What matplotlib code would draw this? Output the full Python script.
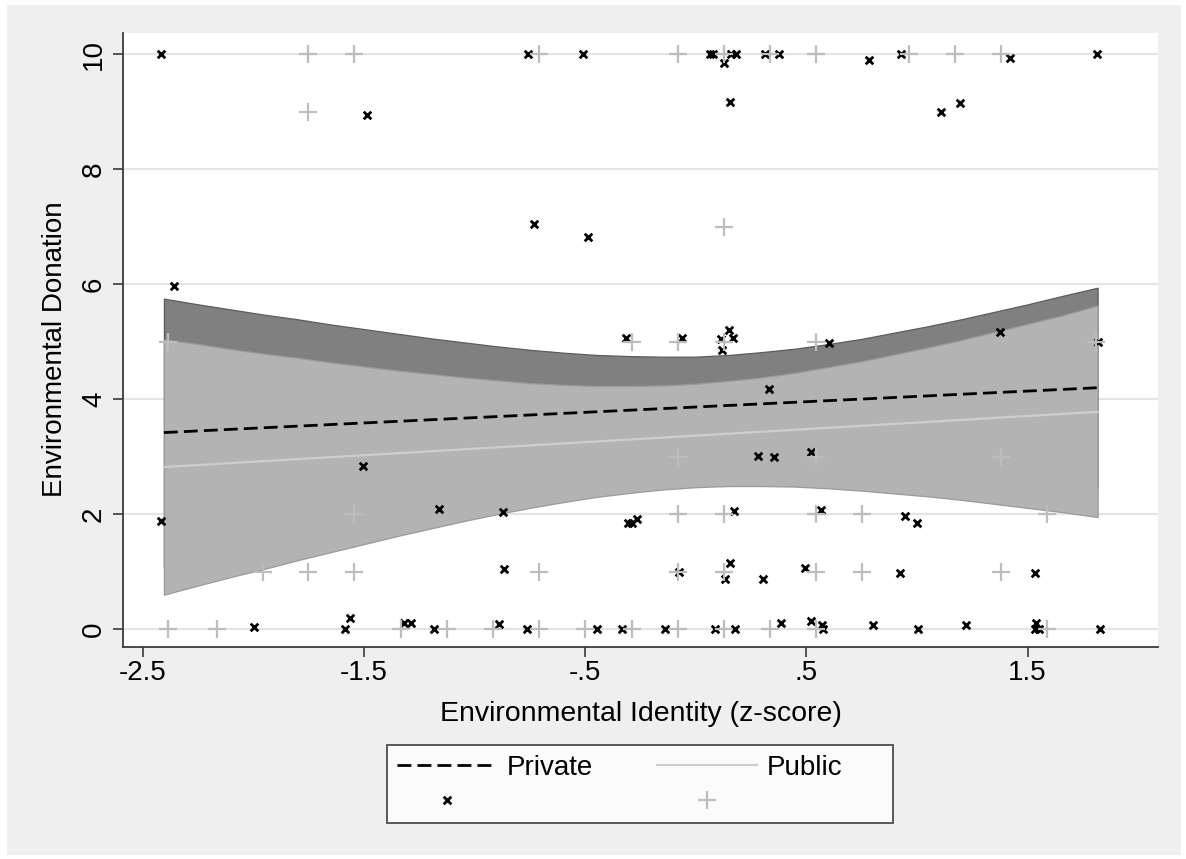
import matplotlib
matplotlib.use("Agg")
import matplotlib.pyplot as plt
from matplotlib.patches import Rectangle

plt.rcParams['font.family'] = ['Liberation Sans', 'DejaVu Sans']

# scatter: Private (x markers)
priv_x = [-2.42, -0.757, -0.510, -1.485, -0.731, -0.488,
          0.065, 0.080, 0.126, 0.159, 0.182, 0.156, 0.315, 0.375, 0.781, 0.930,
          1.419, 1.815, 1.111, 1.194,
          -2.36, -0.314, -0.063, 0.114, 0.148, 0.168, 0.117, 0.333, 0.601, 1.375, 1.818,
          -1.503, -2.419, -1.159, -0.872, -0.307, -0.289, -0.266, -0.865,
          -1.998, -1.586, -1.563, -1.318, -1.289, -1.182, -0.892, -0.761, -0.447, -0.334,
          0.280, 0.355, 0.521, 0.174, 0.566, 0.945, 0.999,
          -0.075, 0.156, 0.133, 0.304, 0.492, 0.925, 1.536,
          -0.141, 0.088, 0.176, 0.385, 0.523, 0.571, 0.575, 0.800, 1.005, 1.223,
          1.539, 1.533, 1.554, 1.827]
priv_y = [10, 10, 10, 8.95, 7.04, 6.83,
          10, 10, 9.84, 10, 10, 9.17, 10, 10, 9.9, 10,
          9.94, 10, 8.99, 9.15,
          5.97, 5.06, 5.07, 5.05, 5.2, 5.06, 4.85, 4.17, 4.97, 5.17, 5.0,
          2.84, 1.88, 2.09, 2.04, 1.84, 1.84, 1.91, 1.04,
          0.03, 0, 0.2, 0.11, 0.1, 0, 0.09, 0, 0, 0,
          3.01, 3.0, 3.08, 2.05, 2.07, 1.97, 1.85,
          1.0, 1.15, 0.87, 0.88, 1.07, 0.97, 0.98,
          0, 0, 0.01, 0.11, 0.14, 0.08, 0, 0.08, 0, 0.08,
          0.11, 0, 0, 0]

# scatter: Public (+ markers)
pub_x = [-1.752, -1.544, -0.708, -0.082, 0.126, 0.334, 0.544, 0.963, 1.170, 1.378,
         -1.752,
         0.126,
         -2.385, -0.289, -0.082, 0.126, 0.544, 1.808,
         -0.082, 0.544, 1.378,
         -1.544, -0.082, 0.126, 0.544, 0.752, 1.586,
         -1.958, -1.752, -1.544, -0.708, -0.082, 0.126, 0.544, 0.752, 1.378,
         -2.385, -2.167, -1.334, -1.126, -0.918, -0.708, -0.500, -0.289, -0.082,
         0.126, 0.334, 0.544, 1.586]
pub_y = [10] * 10 + [9] + [7] + [5] * 6 + [3] * 3 + [2] * 6 + [1] * 9 + [0] * 13

# fitted lines and 95% CI bands
fit_x = [-2.405, 1.817]
priv_fit = [3.42, 4.20]
pub_fit = [2.82, 3.78]

ci_x = [-2.405, -2.25, -2.1, -1.95, -1.8, -1.65, -1.5, -1.35, -1.2, -1.05, -0.9, -0.75,
        -0.6, -0.45, -0.3, -0.15, 0.0, 0.15, 0.3, 0.45, 0.6, 0.75, 0.9, 1.05, 1.2,
        1.35, 1.5, 1.65, 1.817]
priv_hi = [5.75, 5.65, 5.56, 5.47, 5.39, 5.30, 5.22, 5.14, 5.06, 4.99, 4.92, 4.86,
           4.81, 4.77, 4.75, 4.74, 4.74, 4.77, 4.82, 4.88, 4.96, 5.05, 5.16, 5.27, 5.39,
           5.52, 5.65, 5.79, 5.94]
priv_lo = [1.09, 1.24, 1.39, 1.53, 1.68, 1.82, 1.96, 2.09, 2.23, 2.35, 2.47, 2.59,
           2.69, 2.79, 2.87, 2.94, 2.98, 3.01, 3.02, 3.01, 2.99, 2.95, 2.90, 2.85, 2.78,
           2.71, 2.63, 2.55, 2.46]
pub_hi = [5.04, 4.96, 4.87, 4.79, 4.72, 4.64, 4.57, 4.50, 4.44, 4.38, 4.33, 4.28,
          4.25, 4.23, 4.23, 4.24, 4.27, 4.32, 4.38, 4.46, 4.56, 4.66, 4.78, 4.90, 5.03,
          5.17, 5.31, 5.45, 5.63]
pub_lo = [0.60, 0.76, 0.91, 1.05, 1.20, 1.34, 1.48, 1.62, 1.75, 1.88, 2.00, 2.11,
          2.21, 2.30, 2.37, 2.43, 2.47, 2.49, 2.49, 2.48, 2.45, 2.41, 2.36, 2.31, 2.25,
          2.18, 2.11, 2.04, 1.95]

x_ticks = [-2.5, -1.5, -0.5, 0.5, 1.5]
x_ticklabels = ['-2.5', '-1.5', '-.5', '.5', '1.5']
y_ticks = [0, 2, 4, 6, 8, 10]

W, H = 1186, 859
fig = plt.figure(figsize=(W / 100, H / 100), dpi=100)
fig.patch.set_facecolor('white')
fig.patches.append(Rectangle((7 / W, 4 / H), (1181 - 7) / W, (855 - 5) / H,
                             transform=fig.transFigure, facecolor='#efefef',
                             edgecolor='none', zorder=-10))

ax = fig.add_axes([123 / W, (H - 647) / H, (1158 - 123) / W, (647 - 33) / H])
ax.set_facecolor('white')

ax.fill_between(ci_x, priv_lo, priv_hi, facecolor='#808080', edgecolor='#5c5c5c',
                linewidth=0.9, zorder=2)
ax.fill_between(ci_x, pub_lo, pub_hi, facecolor='#b3b3b3', edgecolor='#9a9a9a',
                linewidth=0.9, zorder=3)
l_priv, = ax.plot(fit_x, priv_fit, color='black', linewidth=2.0, dashes=(5, 2.2), zorder=4)
l_pub, = ax.plot(fit_x, pub_fit, color='#cdcdcd', linewidth=1.6, zorder=4)
s_priv = ax.scatter(priv_x, priv_y, marker='x', s=30, color='black', linewidths=2.0, zorder=5)
s_pub = ax.scatter(pub_x, pub_y, marker='+', s=150, color='#bdbdbd', linewidths=1.6, zorder=6)

ax.set_xlim(-2.59, 2.09)
ax.set_ylim(-0.31, 10.37)
ax.set_xticks(x_ticks)
ax.set_xticklabels(x_ticklabels)
ax.set_yticks(y_ticks)
ax.set_yticklabels([str(v) for v in y_ticks], rotation=90, va='center')
ax.yaxis.grid(True, color='#e4e4e4', linewidth=1.6, zorder=0)
ax.set_axisbelow(True)

for side in ['top', 'right']:
    ax.spines[side].set_visible(False)
for side in ['left', 'bottom']:
    ax.spines[side].set_color('#3a3a3a')
    ax.spines[side].set_linewidth(1.3)
ax.tick_params(axis='both', length=7.5, width=1.2, color='#3a3a3a', labelsize=20)
ax.tick_params(axis='x', pad=2)
ax.tick_params(axis='y', pad=4)

ax.set_xlabel('Environmental Identity (z-score)', fontsize=20.5)
ax.xaxis.set_label_coords(0.5, -0.088)
ax.set_ylabel('Environmental Donation', fontsize=20)
ax.yaxis.set_label_coords(-0.053, 0.485)

# Stata legend: lines on row 1, unlabeled markers on row 2
leg = ax.legend([l_priv, s_priv, l_pub, s_pub], ['Private', ' ', 'Public', ' ' * 15],
                ncol=2, loc='upper center', bbox_to_anchor=(640 / W, (H - 745) / H),
                bbox_transform=fig.transFigure, borderaxespad=0, fontsize=20,
                frameon=True, fancybox=False, handlelength=3.6, handletextpad=0.35,
                columnspacing=2.3, labelspacing=0.22, borderpad=0.36)
leg.get_frame().set_edgecolor('#222222')
leg.get_frame().set_linewidth(1.3)

fig.savefig('out.png', dpi=100, facecolor=fig.get_facecolor())
